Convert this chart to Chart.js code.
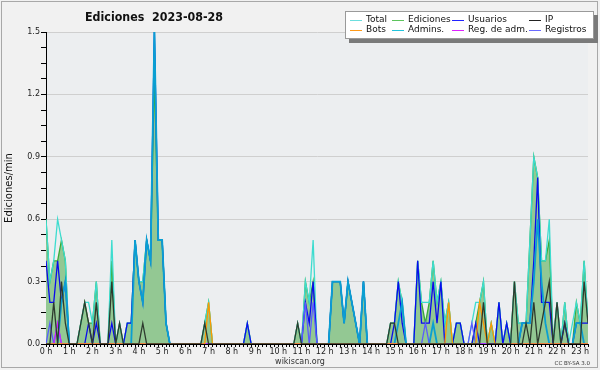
<!DOCTYPE html>
<html>
<head>
<meta charset="utf-8">
<script src="https://cdn.jsdelivr.net/npm/chart.js@4.4.0/dist/chart.umd.min.js"></script>
<style>
html, body { margin: 0; padding: 0; background: #fff; }
#wrap { position: relative; width: 600px; height: 370px; }
#legend {
    position: absolute; left: 345px; top: 11px; width: 247px; height: 26px;
    background: #fff; border: 1px solid #9a9a9a; box-shadow: 4px 4px 0 #7a7a7a;
    font: 9px "DejaVu Sans", sans-serif; color: #111;
}
.it { position: absolute; height: 11px; line-height: 11px; white-space: nowrap; padding-left: 16px; }
.it span { position: absolute; left: 0; top: 6px; width: 12px; height: 1px; }
</style>
</head>
<body>
<div id="wrap">
    <canvas id="chart" width="600" height="370"></canvas>
    <div id="legend"></div>
</div>
<script>
// Ediciones por minuto, media cada 10 minutos (0:00 -> 23:20)
const hourLabels = ['0 h','1 h','2 h','3 h','4 h','5 h','6 h','7 h','8 h','9 h','10 h','11 h',
    '12 h','13 h','14 h','15 h','16 h','17 h','18 h','19 h','20 h','21 h','22 h','23 h'];

const total = [
    0.6,0.3,0.4,0.6,0.5,0.4,  0,0,0,0.1,0.2,0.2,  0.1,0.3,0,0,0,0.5,  0,0.1,0,0.1,0.1,0.5,
    0.3,0.3,0.5,0.4,1.5,0.5,  0.5,0.1,0,0,0,0,  0,0,0,0,0,0.1,  0.2,0,0,0,0,0,
    0,0,0,0,0.1,0,  0,0,0,0,0,0,  0,0,0,0,0,0.1,  0,0.3,0.2,0.5,0,0,
    0,0,0.3,0.3,0.3,0.1,  0.3,0.2,0.1,0,0.3,0,  0,0,0,0,0,0.1,  0.1,0.3,0.2,0,0,0,
    0.4,0.2,0.2,0.2,0.4,0.2,  0.3,0.1,0.2,0,0.1,0.1,  0,0,0.1,0.2,0.2,0.3,  0,0.1,0,0.2,0,0.1,
    0,0.3,0.1,0.1,0.1,0.5,  0.9,0.8,0.4,0.4,0.6,0,  0.2,0,0.2,0,0.1,0.2,  0.1,0.4,0.1
];
const ediciones = [
    0.6,0.3,0.4,0.4,0.5,0.4,  0,0,0,0.1,0.2,0.1,  0.1,0.3,0,0,0,0.4,  0,0.1,0,0.1,0.1,0.5,
    0.3,0.3,0.5,0.4,1.3,0.5,  0.5,0.1,0,0,0,0,  0,0,0,0,0,0.1,  0.2,0,0,0,0,0,
    0,0,0,0,0.1,0,  0,0,0,0,0,0,  0,0,0,0,0,0.1,  0,0.3,0.2,0.3,0,0,
    0,0,0.3,0.3,0.3,0.1,  0.3,0.2,0.1,0,0.3,0,  0,0,0,0,0,0.1,  0.1,0.3,0.2,0,0,0,
    0.4,0.2,0.1,0.2,0.4,0.2,  0.3,0.1,0.2,0,0.1,0.1,  0,0,0,0.1,0.2,0.3,  0,0.1,0,0.2,0,0.1,
    0,0.3,0.1,0.1,0.1,0.5,  0.9,0.8,0.4,0.4,0.5,0,  0.2,0,0.2,0,0,0.2,  0.1,0.4,0.1
];
const usuarios = [
    0.4,0.2,0.2,0.4,0.2,0.3,  0,0,0,0,0,0.1,  0,0.1,0,0,0,0.1,  0,0,0,0.1,0.1,0.5,
    0.3,0.2,0.5,0.4,1.5,0.5,  0.5,0.1,0,0,0,0,  0,0,0,0,0,0,  0,0,0,0,0,0,
    0,0,0,0,0.1,0,  0,0,0,0,0,0,  0,0,0,0,0,0,  0,0.2,0.1,0.3,0,0,
    0,0,0.3,0.3,0.3,0.1,  0.3,0.2,0.1,0,0.3,0,  0,0,0,0,0,0,  0.1,0.3,0.1,0,0,0,
    0.4,0.1,0.1,0.1,0.3,0.1,  0.3,0,0,0,0.1,0.1,  0,0,0,0.1,0,0,  0,0,0,0.2,0,0.1,
    0,0,0,0.1,0.1,0.1,  0.4,0.8,0.2,0.2,0.2,0,  0,0,0.1,0,0,0.1,  0.1,0.1,0.1
];
const ip = [
    0,0,0.2,0,0.3,0.1,  0,0,0,0.1,0.2,0.1,  0,0.2,0,0,0,0.3,  0,0.1,0,0,0,0,
    0,0.1,0,0,0,0,  0,0,0,0,0,0,  0,0,0,0,0,0.1,  0,0,0,0,0,0,
    0,0,0,0,0,0,  0,0,0,0,0,0,  0,0,0,0,0,0.1,  0,0,0,0,0,0,
    0,0,0,0,0,0,  0,0,0,0,0,0,  0,0,0,0,0,0.1,  0.1,0,0,0,0,0,
    0,0,0,0,0,0,  0,0,0,0,0,0,  0,0,0,0,0,0.2,  0,0,0,0,0,0,
    0,0.3,0,0,0.1,0,  0.2,0,0.1,0.2,0.3,0,  0.2,0,0.1,0,0,0,  0,0.3,0.1
];
const bots = [
    0,0,0,0,0,0,  0,0,0,0,0,0,  0,0,0,0,0,0,  0,0,0,0,0,0,
    0,0,0,0,0,0,  0,0,0,0,0,0,  0,0,0,0,0,0,  0.2,0,0,0,0,0,
    0,0,0,0,0,0,  0,0,0,0,0,0,  0,0,0,0,0,0,  0,0,0,0,0,0,
    0,0,0,0,0,0,  0,0,0,0,0,0,  0,0,0,0,0,0,  0,0,0,0,0,0,
    0,0,0,0,0,0,  0,0,0.2,0,0,0,  0,0,0,0,0.2,0.1,  0,0.1,0,0,0,0,
    0,0,0,0,0,0,  0,0,0,0,0,0,  0,0,0,0,0,0,  0,0,0
];
const admins = [
    0,0,0,0,0.2,0.3,  0,0,0,0,0,0,  0,0,0,0,0,0,  0,0,0,0,0,0.5,
    0.3,0.2,0.5,0.4,1.5,0.5,  0.5,0.1,0,0,0,0,  0,0,0,0,0,0,  0,0,0,0,0,0,
    0,0,0,0,0,0,  0,0,0,0,0,0,  0,0,0,0,0,0,  0,0,0,0,0,0,
    0,0,0.3,0.3,0.3,0.1,  0.3,0.2,0.1,0,0.3,0,  0,0,0,0,0,0,  0,0.1,0.2,0,0,0,
    0,0,0,0,0.1,0,  0,0,0,0,0,0,  0,0,0,0,0,0,  0,0,0,0,0,0,
    0,0,0,0.1,0.1,0.1,  0.3,0.6,0.3,0.1,0,0,  0,0,0,0,0,0.1,  0.1,0,0
];
const regAdm = [
    0,0,0,0.1,0,0,  0,0,0,0,0,0,  0,0,0,0,0,0,  0,0,0,0,0,0,
    0,0,0,0,0,0,  0,0,0,0,0,0,  0,0,0,0,0,0,  0,0,0,0,0,0,
    0,0,0,0,0,0,  0,0,0,0,0,0,  0,0,0,0,0,0,  0,0,0,0,0,0,
    0,0,0,0,0,0,  0,0,0,0,0,0,  0,0,0,0,0,0,  0,0,0,0,0,0,
    0,0,0,0,0,0,  0,0,0,0,0,0,  0,0,0,0,0,0,  0,0,0,0,0,0,
    0,0,0,0,0,0,  0,0,0,0,0,0,  0,0,0,0,0,0,  0,0,0
];
const registros = [
    0,0.1,0,0.1,0,0,  0,0,0,0,0,0,  0,0,0,0,0,0,  0,0,0,0,0,0,
    0,0,0,0,0,0,  0,0,0,0,0,0,  0,0,0,0,0,0,  0,0,0,0,0,0,
    0,0,0,0,0,0,  0,0,0,0,0,0,  0,0,0,0,0,0,  0,0.2,0,0.2,0,0,
    0,0,0,0,0,0,  0,0,0,0,0,0,  0,0,0,0,0,0,  0,0,0,0,0,0,
    0,0,0.1,0,0,0,  0,0,0,0,0,0,  0,0,0.1,0,0,0,  0,0,0,0,0,0,
    0,0,0,0,0,0,  0,0,0,0,0,0,  0,0,0,0,0,0,  0,0,0
];

// nombre, datos, color linea, color leyenda
const series = [
    ['IP', ip, '#2e3a2e', '#222222'],
    ['Bots', bots, '#ff9900', '#ff9a1a'],
    ['Reg. de adm.', regAdm, '#cc22ff', '#dd22ff'],
    ['Registros', registros, '#5a5aff', '#6a6aff'],
    ['Admins.', admins, '#0a9fd2', '#22c4dc'],
    ['Usuarios', usuarios, '#0a0aee', '#2222ff'],
    ['Total', total, '#3ddccf', '#6cdede'],
    ['Ediciones', ediciones, '#38aa38', '#5cc45c']
];
const legendOrder = ['Total', 'Ediciones', 'Usuarios', 'IP', 'Bots', 'Admins.', 'Reg. de adm.', 'Registros'];

const toPoints = arr => arr.map((v, i) => ({ x: i, y: v }));

const datasets = series.map(([name, data, color]) => ({
    label: name,
    data: toPoints(data),
    borderColor: color,
    borderWidth: name === 'Admins.' ? 1.8 : 1.3,
    pointRadius: 0,
    tension: 0,
    fill: name === 'Ediciones' ? 'origin' : false,
    backgroundColor: name === 'Ediciones' ? '#93c893' : color
}));

// leyenda en html
const legend = document.getElementById('legend');
const swatchX = [4, 46, 106, 183];
legendOrder.forEach((name, k) => {
    const s = series.find(r => r[0] === name);
    const el = document.createElement('div');
    el.className = 'it';
    el.style.left = swatchX[k % 4] + 'px';
    el.style.top = (k < 4 ? 2 : 12) + 'px';
    el.innerHTML = '<span style="background:' + s[3] + '"></span>' + name;
    legend.appendChild(el);
});

const decor = {
    id: 'decor',
    beforeDraw(chart) {
        const { ctx, chartArea: a } = chart;
        ctx.save();
        ctx.fillStyle = '#f1f1f1';
        ctx.fillRect(0, 0, 600, 370);
        ctx.strokeStyle = '#a8a8a8';
        ctx.lineWidth = 1;
        ctx.strokeRect(1.5, 1.5, 596, 366);
        ctx.fillStyle = '#eceef0';
        ctx.fillRect(a.left, a.top, a.right - a.left, a.bottom - a.top);
        ctx.restore();
    },
    afterDraw(chart) {
        const ctx = chart.ctx;
        ctx.save();
        ctx.fillStyle = '#111';
        ctx.textBaseline = 'alphabetic';
        ctx.textAlign = 'left';
        // titulo algo estrecho como en la imagen original
        ctx.font = 'bold 13px "DejaVu Sans"';
        const title = 'Ediciones  2023-08-28';
        const w = ctx.measureText(title).width;
        ctx.translate(85, 21);
        ctx.scale(138 / w, 1);
        ctx.fillText(title, 0, 0);
        ctx.setTransform(1, 0, 0, 1, 0, 0);
        ctx.fillStyle = '#333';
        ctx.font = '8px "DejaVu Sans"';
        ctx.textAlign = 'center';
        ctx.fillText('wikiscan.org', 300, 364);
        ctx.font = '5.5px "DejaVu Sans"';
        ctx.textAlign = 'right';
        ctx.fillText('CC BY-SA 3.0', 590, 365);
        ctx.restore();
    }
};

new Chart(document.getElementById('chart'), {
    type: 'line',
    data: { datasets },
    plugins: [decor],
    options: {
        responsive: false,
        animation: false,
        layout: { padding: { top: 32, right: 12, left: 0, bottom: 0 } },
        plugins: { legend: { display: false }, tooltip: { enabled: false } },
        scales: {
            x: {
                type: 'linear', min: 0, max: 140,
                afterFit(s) { s.height = 26; },
                ticks: {
                    stepSize: 1, autoSkip: false, maxRotation: 0, padding: 0,
                    color: '#222', font: { family: 'DejaVu Sans', size: 8 },
                    callback: v => v % 6 === 0 ? hourLabels[v / 6] : ''
                },
                grid: { drawOnChartArea: false, tickColor: '#000', tickLength: 3 },
                border: { color: '#000' }
            },
            y: {
                min: 0, max: 1.5,
                afterFit(s) { s.width = 46; },
                ticks: {
                    stepSize: 0.075, padding: 1,
                    color: '#222', font: { family: 'DejaVu Sans', size: 8 },
                    callback: v => Math.round(v / 0.075) % 4 === 0 ? v.toFixed(1) : ''
                },
                grid: {
                    color: c => (c.tick && c.tick.value > 0 && Math.round(c.tick.value / 0.075) % 4 === 0) ? '#cfcfcf' : 'rgba(0,0,0,0)',
                    tickColor: '#000', tickLength: 5
                },
                border: { color: '#000' },
                title: {
                    display: true, text: 'Ediciones/min', color: '#111',
                    font: { family: 'DejaVu Sans', size: 10 }, padding: { top: 3, bottom: 0 }
                }
            }
        }
    }
});
</script>
</body>
</html>
